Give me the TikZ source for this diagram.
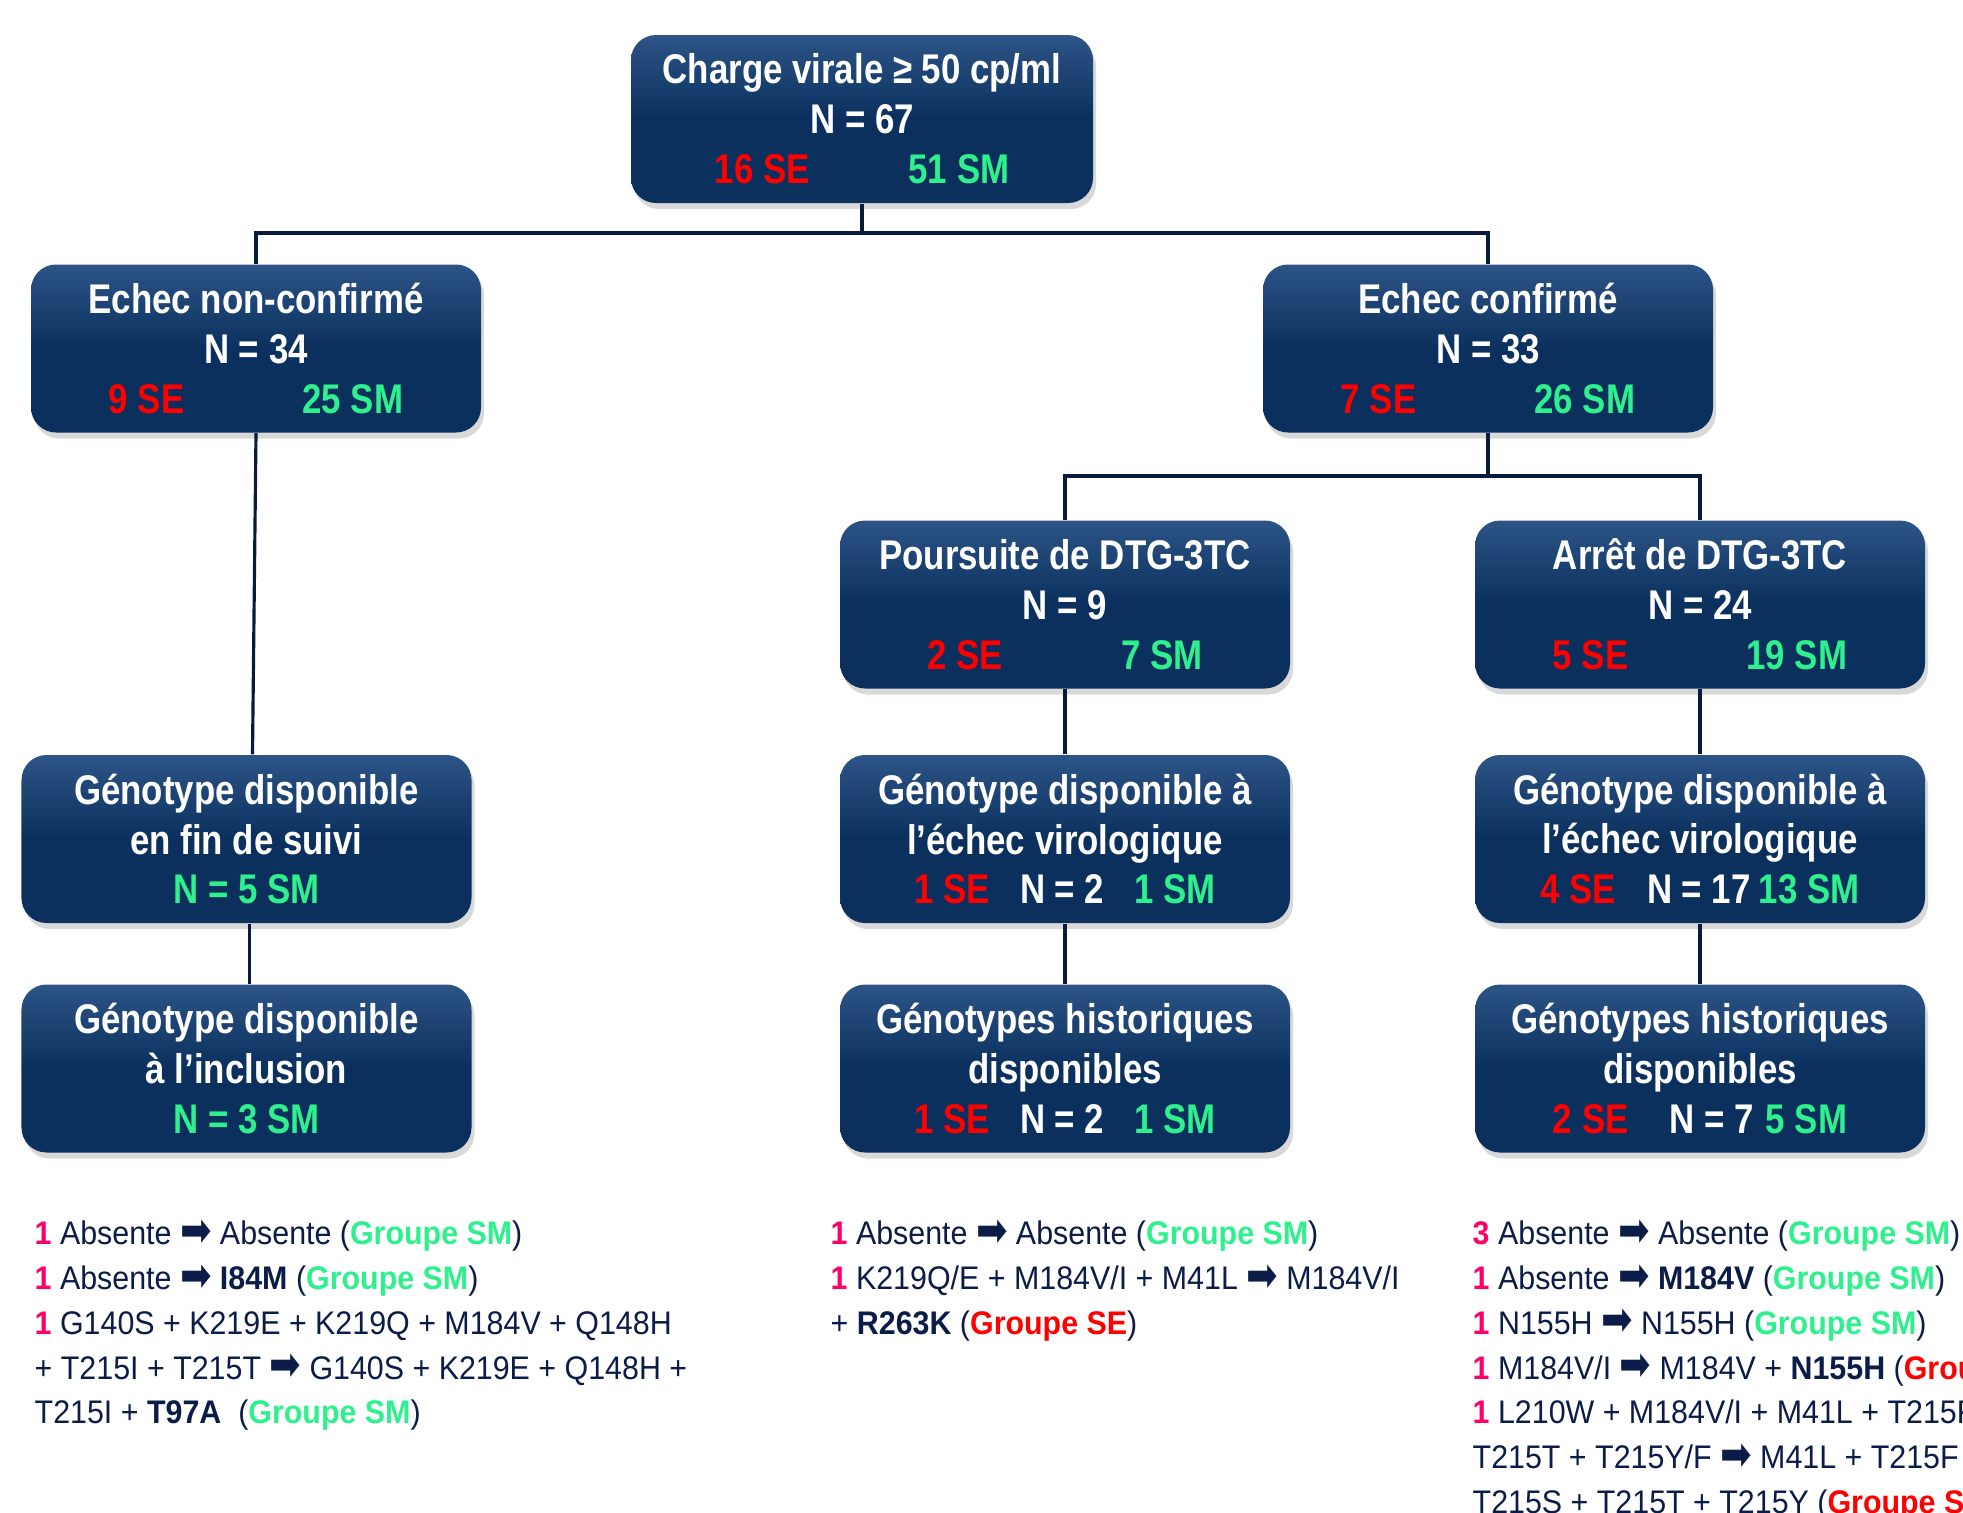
\documentclass[tikz,border=0pt]{standalone}
\usepackage{fontspec}
\usepackage{graphicx}
\setmainfont{Liberation Sans}[FakeStretch=0.84]
\newfontfamily\listfont{Liberation Sans}[FakeStretch=0.93]
\newfontfamily\arrowfont{DejaVu Sans}
\usetikzlibrary{shadows}

\definecolor{boxblue}{RGB}{11,48,94}
\definecolor{boxhi}{RGB}{44,84,134}
\definecolor{linenavy}{RGB}{10,26,62}
\definecolor{txtnavy}{RGB}{12,28,72}
\definecolor{sered}{RGB}{255,0,0}
\definecolor{smgreen}{RGB}{46,240,140}
\definecolor{numpink}{RGB}{255,0,102}

\newcommand{\fl}{\raisebox{-0.1ex}{\scalebox{1.15}[1.45]{\arrowfont\char"27A1}}}
\newcommand{\nb}[1]{\textcolor{numpink}{\textbf{#1}}}
\newcommand{\gsm}{\textcolor{smgreen}{\textbf{Groupe SM}}}
\newcommand{\gse}{\textcolor{sered}{\textbf{Groupe SE}}}
\newcommand{\se}[1]{\textcolor{sered}{#1 SE}}
\newcommand{\sm}[1]{\textcolor{smgreen}{#1 SM}}

\begin{document}
\begin{tikzpicture}[
	box/.style={rounded corners=0.25cm, top color=boxhi, bottom color=boxblue, middle color=boxblue,
		text=white, font=\fontsize{11.8}{14.2}\selectfont\bfseries, align=center,
		minimum width=4.5cm, minimum height=1.68cm, inner sep=0pt,
		drop shadow={shadow xshift=0.03cm, shadow yshift=-0.06cm, opacity=0.3}},
	lien/.style={draw=linenavy, line width=0.9pt},
	liste/.style={text=txtnavy, font=\listfont\fontsize{9.3}{12.75}\selectfont, align=left, anchor=north west, inner sep=0pt}]

\useasboundingbox (0, 0) rectangle (19.63, -15.12);
\clip (0, 0) rectangle (19.63, -15.12);

% boxes
\node[box, minimum width=4.62cm] (top) at (8.62, -1.19) {Charge virale ≥ 50 cp/ml\\N = 67\\\se{16}\hspace{0.99cm}\sm{51}};
\node[box] (nc) at (2.56, -3.485) {Echec non-confirmé\\N = 34\\\se{9}\hspace{1.18cm}\sm{25}};
\node[box] (conf) at (14.88, -3.485) {Echec confirmé\\N = 33\\\se{7}\hspace{1.18cm}\sm{26}};
\node[box] (pours) at (10.65, -6.045) {Poursuite de DTG-3TC\\N = 9\\\se{2}\hspace{1.18cm}\sm{7}};
\node[box] (arret) at (17.00, -6.045) {Arrêt de DTG-3TC\\N = 24\\\se{5}\hspace{1.18cm}\sm{19}};
\node[box] (gfin) at (2.465, -8.39) {Génotype disponible\\en fin de suivi\\\textcolor{smgreen}{N = 5 SM}};
\node[box] (gpours) at (10.65, -8.39) {Génotype disponible à\\l’échec virologique\\\se{1}\hspace{0.3cm}N = 2\hspace{0.3cm}\sm{1}};
\node[box] (garret) at (17.00, -8.39) {Génotype disponible à\\l’échec virologique\\\se{4}\hspace{0.31cm}N = 17\hspace{0.08cm}\sm{13}};
\node[box] (gincl) at (2.465, -10.685) {Génotype disponible\\à l’inclusion\\\textcolor{smgreen}{N = 3 SM}};
\node[box] (hpours) at (10.65, -10.685) {Génotypes historiques\\disponibles\\\se{1}\hspace{0.3cm}N = 2\hspace{0.3cm}\sm{1}};
\node[box] (harret) at (17.00, -10.685) {Génotypes historiques\\disponibles\\\se{2}\hspace{0.41cm}N = 7\hspace{0.12cm}\sm{5}};

% links
\coordinate (b1) at (8.62, -2.33);
\coordinate (b2) at (14.88, -4.76);
\draw[lien] (top.south) -- (b1);
\draw[lien] (nc.north) -- (nc.north |- b1) -- (conf.north |- b1) -- (conf.north);
\draw[lien] (conf.south) -- (b2);
\draw[lien] (pours.north) -- (pours.north |- b2) -- (arret.north |- b2) -- (arret.north);
\draw[lien] (nc.south) -- ([xshift=0.06cm]gfin.north);
\draw[lien] ([xshift=0.03cm]gfin.south) -- ([xshift=0.03cm]gincl.north);
\draw[lien] (pours.south) -- (gpours.north);
\draw[lien] (gpours.south) -- (hpours.north);
\draw[lien] (arret.south) -- (garret.north);
\draw[lien] (garret.south) -- (harret.north);

% lists
\node[liste] (l1) at (0.34, -12.19) {\nb{1} Absente \fl{} Absente (\gsm)\\
	\nb{1} Absente \fl{} \textbf{I84M} (\gsm)\\
	\nb{1} G140S + K219E + K219Q + M184V + Q148H\\
	+ T215I + T215T \fl{} G140S + K219E + Q148H +\\
	T215I + \textbf{T97A}\ \ (\gsm)};
\node[liste] (l2) at (8.30, -12.19) {\nb{1} Absente \fl{} Absente (\gsm)\\
	\nb{1} K219Q/E + M184V/I + M41L \fl{} M184V/I\\
	+ \textbf{R263K} (\gse)};
\node[liste] (l3) at (14.72, -12.19) {\nb{3} Absente \fl{} Absente (\gsm)\\
	\nb{1} Absente \fl{} \textbf{M184V} (\gsm)\\
	\nb{1} N155H \fl{} N155H (\gsm)\\
	\nb{1} M184V/I \fl{} M184V + \textbf{N155H} (\gse)\\
	\nb{1} L210W + M184V/I + M41L + T215F +\\
	T215T + T215Y/F \fl{} M41L + T215F +\\
	T215S + T215T + T215Y (\gse)};

\end{tikzpicture}
\end{document}
